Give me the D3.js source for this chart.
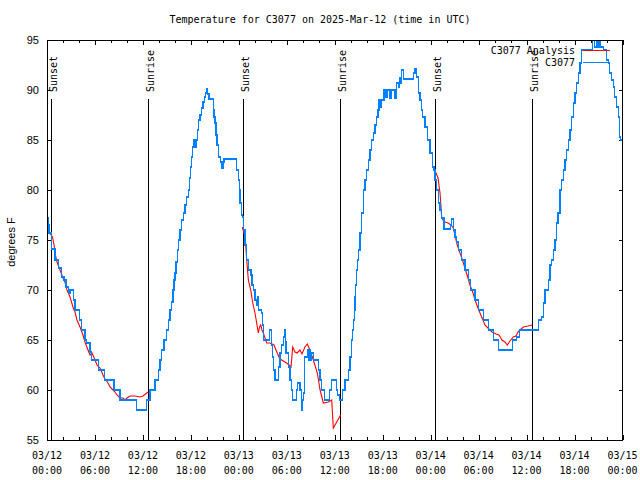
<!DOCTYPE html>
<html><head><meta charset="utf-8">
<script src="https://cdn.jsdelivr.net/npm/d3@7"></script>
<style>body{margin:0;background:#fff}svg{display:block}</style>
</head><body>
<svg id="c" width="640" height="480"></svg>
<script>
// hours since 2025-03-12 00:00 UTC, and temperatures (°F)
const obsHours = [0.00,0.13,0.25,0.59,1.00,1.41,1.84,2.13,2.38,2.66,2.88,3.29,3.50,4.04,4.34,4.75,4.97,5.38,5.59,6.42,7.17,8.38,9.13,11.22,12.47,12.89,13.51,13.92,14.14,14.35,14.64,14.98,15.20,15.39,15.60,15.76,15.89,16.01,16.14,16.30,16.43,16.64,16.85,17.05,17.27,17.48,17.68,17.83,17.95,18.10,18.20,18.30,18.51,18.73,18.83,18.93,19.14,19.35,19.52,19.68,19.83,19.98,20.10,20.27,20.81,20.89,21.02,21.14,21.27,21.43,21.65,21.86,22.02,22.15,23.73,23.93,24.04,24.15,24.31,24.43,24.56,24.77,24.99,25.19,25.52,25.65,25.81,26.02,26.19,26.32,26.45,26.87,26.97,27.07,27.89,28.07,28.24,28.37,28.52,28.96,29.15,29.36,29.56,29.69,29.80,29.90,30.19,30.40,30.57,30.74,31.19,31.36,31.65,31.87,31.97,32.07,32.17,32.27,32.56,32.68,32.83,32.96,33.12,33.32,33.94,34.16,34.37,34.69,35.32,35.62,36.24,36.40,36.57,36.94,37.28,37.70,37.91,38.12,38.22,38.32,38.43,38.53,38.63,38.75,38.85,38.95,39.16,39.37,39.57,39.78,39.99,40.20,40.41,40.62,40.82,41.04,41.25,41.41,41.54,41.66,41.87,42.16,42.41,42.57,42.82,43.04,43.54,43.75,43.95,44.08,44.25,44.37,44.58,45.83,46.04,46.25,46.45,46.67,46.85,47.00,47.29,47.58,47.92,48.25,48.42,48.54,48.75,48.96,49.17,49.38,49.67,50.51,50.63,50.83,51.04,51.25,51.45,51.87,52.29,52.70,53.00,53.55,53.96,54.59,55.21,55.84,56.46,58.26,58.76,59.09,61.47,61.89,62.09,62.30,62.72,62.93,63.14,63.35,63.56,63.77,63.93,64.18,64.39,64.60,64.81,65.02,65.23,65.43,65.65,65.85,66.06,66.27,66.47,66.68,66.89,68.30,68.55,68.72,68.93,69.09,69.30,69.58,70.01,70.21,70.42,70.60,70.83,71.04,71.25,71.46,71.67,71.79,72.00];
const obsTemps = [77.2,76.5,75.7,74.1,73.0,72.2,71.3,71.0,70.3,69.7,70.0,69.0,68.0,67.0,66.0,65.0,64.7,63.8,63.0,62.0,61.0,60.0,59.0,58.0,59.0,60.0,61.0,62.0,63.0,64.0,65.0,66.0,67.0,68.0,68.8,70.0,71.0,71.7,72.8,74.0,75.0,76.0,77.0,77.7,78.5,79.3,80.0,81.2,82.3,83.3,84.3,85.0,84.3,85.0,86.0,87.0,87.5,88.2,88.8,89.3,89.7,90.1,89.6,89.1,88.0,87.3,86.7,85.5,84.5,83.3,82.8,82.2,82.8,83.1,82.0,81.0,80.0,78.7,77.5,77.3,76.0,74.5,73.0,72.0,71.5,70.5,70.0,69.0,68.5,69.3,68.0,67.7,66.5,65.0,66.0,64.5,63.3,62.0,61.0,62.3,63.7,64.5,65.3,66.0,64.8,63.7,62.3,61.0,60.0,59.0,60.0,60.7,60.0,58.0,59.0,59.7,61.5,63.3,64.0,63.0,64.0,63.0,63.7,63.0,62.0,61.0,60.0,59.0,60.0,61.0,60.0,59.5,59.0,60.0,61.0,62.0,63.3,65.0,66.0,67.0,68.0,69.3,70.5,72.0,73.0,74.0,75.7,77.7,80.0,81.0,82.0,83.0,84.0,85.0,85.7,86.5,87.3,88.0,89.0,88.3,89.0,90.0,89.3,90.0,89.2,90.0,89.2,90.7,90.3,91.2,90.7,92.0,91.1,91.7,92.1,91.3,89.7,89.0,88.0,87.3,86.3,85.0,83.7,82.3,82.0,81.0,80.0,78.7,78.0,77.2,76.1,76.5,77.1,76.0,75.3,74.8,74.0,73.0,72.0,71.0,70.0,69.0,68.0,67.0,66.0,65.0,64.0,65.0,65.3,66.0,67.0,67.3,68.7,70.0,71.0,72.5,73.0,74.0,75.0,76.7,77.7,80.0,81.0,82.0,83.0,84.0,85.0,86.0,87.3,88.7,89.7,90.7,91.7,92.7,94.0,96.0,94.3,96.0,94.3,96.0,94.3,94.0,93.0,92.7,91.7,91.0,90.3,89.3,88.3,87.3,85.3,85.0,85.0];

const anaHours1 = [0.25,0.50,0.69,0.88,1.06,1.25,1.63,2.00,2.25,2.50,2.88,3.25,3.50,3.75,4.13,4.50,4.75,5.13,5.38,5.63,6.01,6.26,6.63,7.01,7.26,7.63,7.88,8.26,8.51,8.76,9.13,9.51,9.76,10.01,10.38,11.01,11.64,12.01,12.47,12.70];
const anaTemps1 = [75.8,75.5,75.3,74.5,73.5,72.8,72.0,71.2,70.8,70.0,69.3,68.3,67.8,67.0,66.3,65.5,64.8,64.0,63.5,63.7,63.0,62.5,62.2,61.5,61.1,60.7,60.3,60.0,59.8,59.5,59.2,59.2,59.0,59.2,59.4,59.4,59.3,59.4,59.7,59.8];
const anaHours2 = [24.43,24.64,24.77,24.99,25.19,25.49,25.74,26.02,26.21,26.44,26.59,26.74,26.90,27.06,27.49,27.90,28.40,28.65,29.02,29.36,29.78,30.15,30.53,30.74,31.03,31.28,31.65,31.90,32.27,32.56,32.90,33.32,33.82,34.16,34.57,35.20,35.62,35.82,36.74];
const anaTemps2 = [76.3,75.7,75.5,73.0,71.0,70.0,68.7,67.7,66.8,65.7,66.3,66.5,66.0,65.7,64.7,64.7,64.5,64.0,63.3,63.0,62.8,62.6,62.3,64.3,63.8,63.7,64.0,63.6,64.3,64.6,64.0,63.0,61.7,60.0,58.7,58.8,59.0,56.2,57.5];
const anaHours3 = [48.42,48.67,48.92,49.17,49.38,49.54,49.79,50.17,50.54,50.83,51.04,51.29,51.67,51.98,52.29,52.67,52.92,53.30,53.55,53.92,54.17,54.54,54.79,55.17,55.67,56.17,56.54,56.92,57.29,57.58,57.92,58.34,58.67,58.92,59.17,59.59,60.18,60.71];
const anaTemps3 = [82.0,81.7,81.2,79.7,77.3,77.0,76.8,76.7,76.5,76.2,75.5,74.6,73.7,73.0,72.2,71.2,70.5,69.7,69.0,68.2,67.7,67.0,66.5,66.2,65.8,65.6,65.5,65.0,64.8,64.5,64.9,65.3,65.4,65.8,66.0,66.3,66.4,66.5];

const sunHours = [0.47,12.68,24.48,36.66,48.49,60.64];
const sunLabels = ["Sunset","Sunrise","Sunset","Sunrise","Sunset","Sunrise"];
const yTicks = [55,60,65,70,75,80,85,90,95];
const title = "Temperature for C3077 on 2025-Mar-12 (time in UTC)";
const seriesNames = ["C3077 Analysis","C3077"];
const colors = ["#ff0000","#0080ff"];

const t0 = Date.UTC(2025,2,12);
const toDate = h => new Date(t0 + h*3600e3);
const L=47, R=622.5, T=40, B=440;
const x = d3.scaleUtc().domain([toDate(0), toDate(72)]).range([L,R]);
const y = d3.scaleLinear().domain([55,95]).range([B,T]);
const svg = d3.select("#c");
const mono = "'DejaVu Sans Mono', 'Liberation Mono', monospace";
const sans = "'Liberation Sans', Arial, sans-serif";

svg.append("defs").append("clipPath").attr("id","clip").append("rect")
  .attr("x",L).attr("y",T).attr("width",R-L).attr("height",B-T);

// title
svg.append("text").attr("x",320).attr("y",23).attr("text-anchor","middle")
  .style("font-family",mono).style("font-size","10px").text(title);

// sunrise / sunset lines
sunHours.forEach((h,i)=>{
  const sx = Math.round(x(toDate(h)))+0.5;
  svg.append("line").attr("x1",sx).attr("x2",sx).attr("y1",99).attr("y2",B)
    .attr("stroke","#000").attr("stroke-width",1).attr("shape-rendering","crispEdges");
  svg.append("text").attr("transform",`translate(${sx+1.5},92) rotate(-90)`)
    .attr("dominant-baseline","central")
    .style("font-family",mono).style("font-size","10px").text(sunLabels[i]);
});

// axes
const xMajor = d3.axisBottom(x).ticks(d3.utcHour.every(6)).tickSize(-5).tickFormat(()=>"");
const xMinor = d3.axisBottom(x).ticks(d3.utcHour.every(2)).tickSize(-3).tickFormat(()=>"");
const xMajorTop = d3.axisTop(x).ticks(d3.utcHour.every(6)).tickSize(-5).tickFormat(()=>"");
const xMinorTop = d3.axisTop(x).ticks(d3.utcHour.every(2)).tickSize(-3).tickFormat(()=>"");
[[xMinor,B],[xMajor,B],[xMinorTop,T],[xMajorTop,T]].forEach(([ax,pos])=>{
  svg.append("g").attr("transform",`translate(0,${pos})`).call(ax)
    .call(g=>g.select(".domain").remove())
    .call(g=>g.selectAll("line").attr("stroke","#000").attr("shape-rendering","crispEdges"));
});
const yLeft = d3.axisLeft(y).tickValues(yTicks).tickSize(-4).tickPadding(8).tickFormat(d3.format("d"));
svg.append("g").attr("transform",`translate(${L},0)`).call(yLeft)
  .call(g=>g.select(".domain").remove())
  .call(g=>g.selectAll("line").attr("shape-rendering","crispEdges"))
  .call(g=>g.selectAll("text").style("font-family",sans).style("font-size","11px").attr("fill","#000"));
const yRight = d3.axisRight(y).tickValues(yTicks).tickSize(-4).tickFormat(()=>"");
svg.append("g").attr("transform",`translate(${R},0)`).call(yRight)
  .call(g=>g.select(".domain").remove())
  .call(g=>g.selectAll("line").attr("shape-rendering","crispEdges"));

// x tick labels (two lines)
const fmtD = d3.utcFormat("%m/%d"), fmtT = d3.utcFormat("%H:%M");
const labelTicks = x.ticks(d3.utcHour.every(6));
const lg = svg.append("g").style("font-family",mono).style("font-size","10px");
labelTicks.forEach(d=>{
  const t = lg.append("text").attr("x",x(d)).attr("text-anchor","middle");
  t.append("tspan").attr("x",x(d)).attr("y",459).text(fmtD(d));
  t.append("tspan").attr("x",x(d)).attr("y",474).text(fmtT(d));
});

// y label
svg.append("text").attr("transform","translate(11,242) rotate(-90)")
  .attr("text-anchor","middle").attr("dominant-baseline","central")
  .style("font-family",sans).style("font-size","11px").text("degrees F");

// data
const plot = svg.append("g").attr("clip-path","url(#clip)");
const lineLin = d3.line().x(d=>x(toDate(d[0]))).y(d=>y(d[1]));
const lineStep = d3.line().x(d=>x(toDate(d[0]))).y(d=>y(d[1])).curve(d3.curveStepAfter);
[[anaHours1,anaTemps1],[anaHours2,anaTemps2],[anaHours3,anaTemps3]].forEach(([hs,vs])=>{
  plot.append("path").datum(hs.map((h,i)=>[h,vs[i]])).attr("d",lineLin)
    .attr("fill","none").attr("stroke",colors[0]).attr("stroke-width",1.1);
});
plot.append("path").datum(obsHours.map((h,i)=>[h,obsTemps[i]])).attr("d",lineStep)
  .attr("fill","none").attr("stroke",colors[1]).attr("stroke-width",1.1)
  .attr("shape-rendering","crispEdges");

// border
svg.append("rect").attr("x",L+0.5).attr("y",T+0.5).attr("width",R-L-1).attr("height",B-T)
  .attr("fill","none").attr("stroke","#000").attr("stroke-width",1).attr("shape-rendering","crispEdges");

// legend
seriesNames.forEach((n,i)=>{
  const ly = 50 + i*12.5;
  svg.append("text").attr("x",575).attr("y",ly).attr("text-anchor","end")
    .attr("dominant-baseline","central")
    .style("font-family",mono).style("font-size","10px").text(n);
  svg.append("line").attr("x1",583).attr("x2",610).attr("y1",ly).attr("y2",ly)
    .attr("stroke",colors[i]).attr("stroke-width",1).attr("shape-rendering","crispEdges");
});
</script>
</body></html>
